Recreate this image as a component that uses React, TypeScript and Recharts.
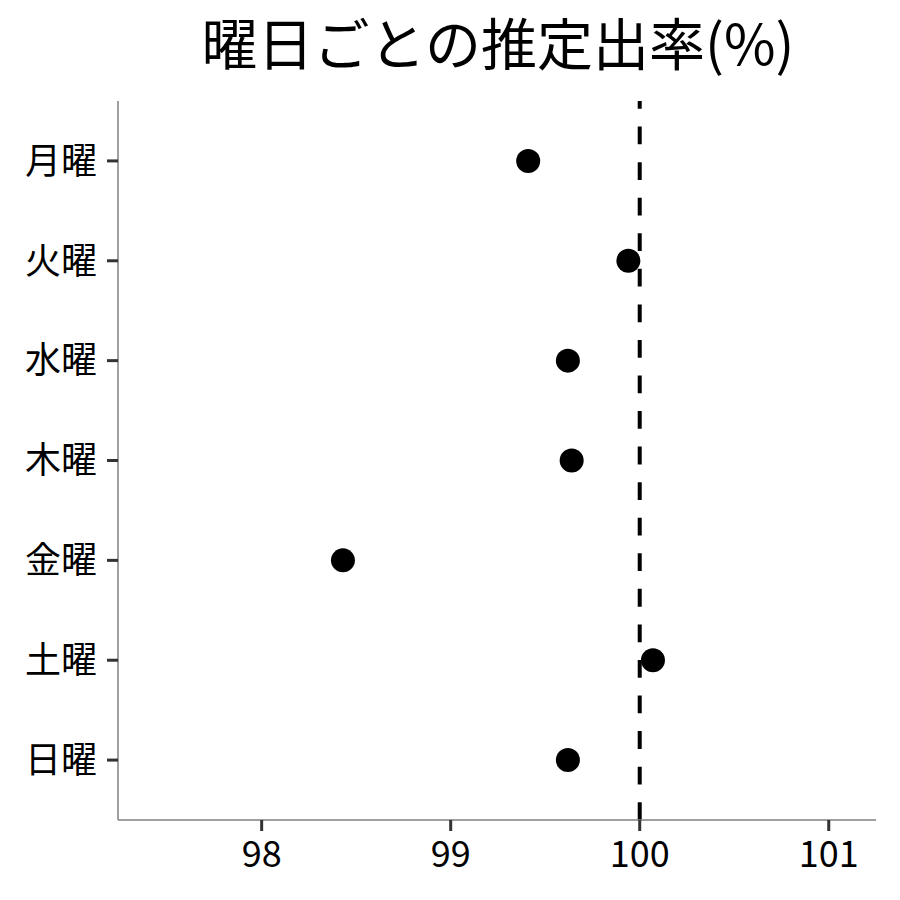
import { ScatterChart, Scatter, XAxis, YAxis, ReferenceLine } from "recharts";

const days = ["月曜", "火曜", "水曜", "木曜", "金曜", "土曜", "日曜"];
const rates = [99.41, 99.94, 99.62, 99.64, 98.43, 100.07, 99.62];
const xTicks = [98, 99, 100, 101];
const baseline = 100;

const FONT = '"Noto Sans CJK JP", "Noto Sans", sans-serif';

const points = days.map((day, i) => ({ day, pos: i + 1, rate: rates[i] }));

const Dot = (props: any) => <circle cx={props.cx} cy={props.cy} r={12} fill="#000" />;

export default function App() {
  return (
    <div style={{ position: "absolute", left: 0, top: 0, width: 900, height: 900, background: "#fff", fontFamily: FONT }}>
      <svg width={900} height={100} style={{ position: "absolute", left: 0, top: 0 }}>
        <text x={498} y={65} textAnchor="middle" fontSize={56} fontFamily={FONT} fill="#000">
          曜日ごとの推定出率(%)
        </text>
      </svg>
      <ScatterChart width={900} height={900} margin={{ top: 101, right: 24, bottom: 0, left: 0 }}>
        <XAxis
          type="number"
          dataKey="rate"
          domain={[97.24, 101.25]}
          ticks={xTicks}
          allowDataOverflow
          height={80}
          tickSize={11}
          tickMargin={10}
          axisLine={{ stroke: "#808080", strokeWidth: 1.5 }}
          tickLine={{ stroke: "#333", strokeWidth: 3 }}
          tick={{ fontSize: 36, fill: "#000", fontFamily: FONT }}
        />
        <YAxis
          type="number"
          dataKey="pos"
          domain={[0.4, 7.6]}
          ticks={[1, 2, 3, 4, 5, 6, 7]}
          reversed
          width={118}
          tickSize={11}
          tickMargin={10}
          tickFormatter={(v: number) => days[v - 1]}
          axisLine={{ stroke: "#808080", strokeWidth: 1.5 }}
          tickLine={{ stroke: "#333", strokeWidth: 3 }}
          tick={{ fontSize: 36, fill: "#000", fontFamily: FONT }}
        />
        <ReferenceLine x={baseline} stroke="#000" strokeWidth={4} strokeDasharray="17.78 17.78" />
        <Scatter data={points} shape={Dot} isAnimationActive={false} />
      </ScatterChart>
    </div>
  );
}
